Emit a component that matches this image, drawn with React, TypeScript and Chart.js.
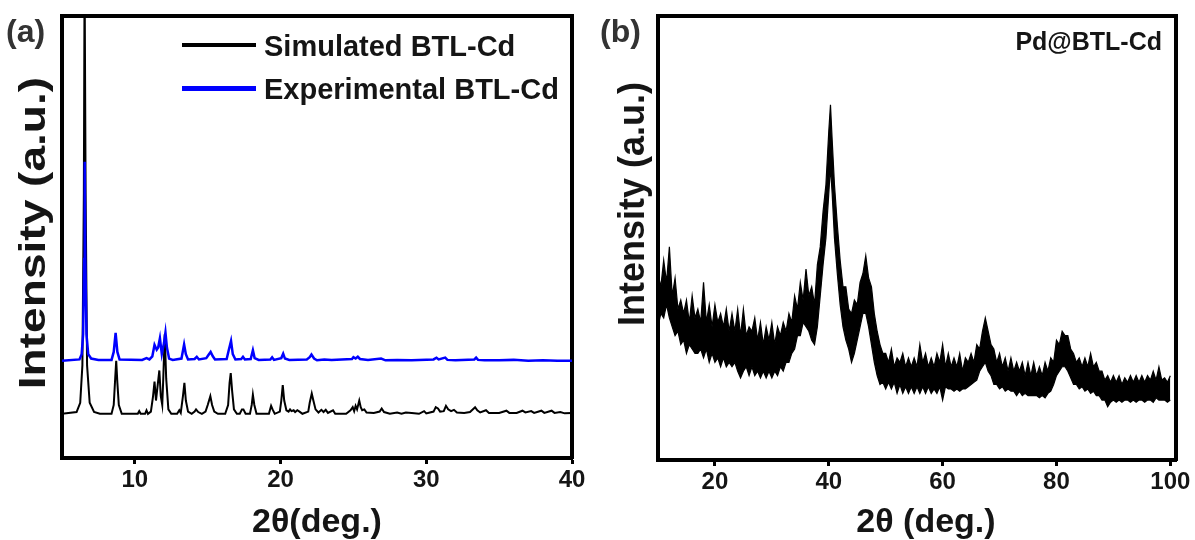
import React, { useEffect, useRef } from "react";
import { Chart, registerables } from "chart.js";

Chart.register(...registerables);

// ---------- Panel (a) data ----------
const simTheta = [
  5, 6.0, 6.25, 6.4, 6.5, 6.55, 6.62, 6.72, 6.9, 7.2, 7.6,
  8.4, 8.55, 8.65, 8.72, 8.8, 8.9, 9.1,
  10.2, 10.3, 10.4, 10.7, 10.8, 10.9,
  11.1, 11.25, 11.35, 11.45, 11.55, 11.68, 11.78, 11.88, 11.95, 12.05, 12.15, 12.3, 12.5,
  12.9, 13.05, 13.15, 13.3, 13.4, 13.5, 13.65, 13.9,
  14.1, 14.2, 14.35, 14.6, 14.85, 15.0, 15.18, 15.3, 15.45, 15.7,
  16.2, 16.4, 16.5, 16.58, 16.68, 16.8, 17.0,
  17.2, 17.35, 17.45, 17.6, 17.9, 18.02, 18.1, 18.2, 18.35,
  19.2, 19.35, 19.45, 19.6, 19.95, 20.05, 20.15, 20.25, 20.4, 20.55, 20.65, 20.75, 20.9, 21.0, 21.15, 21.3, 21.5,
  21.9, 22.0, 22.14, 22.25, 22.4, 22.6, 22.8, 22.95, 23.1, 23.25, 23.6, 23.75,
  24.5, 24.8, 24.95, 25.05, 25.15, 25.25, 25.4, 25.5, 25.6, 25.75, 25.9,
  26.4, 26.8, 26.94, 27.1, 27.5, 28.0, 28.3, 28.6, 29.0, 29.5, 29.85, 30.0,
  30.5, 30.65, 30.8, 30.95, 31.2, 31.35, 31.5, 31.7, 31.9, 32.1, 32.6, 33.0, 33.35, 33.5, 33.7,
  34.1, 34.3, 35.0, 35.5, 35.7, 36.2, 36.6, 36.8, 37.2, 37.4, 37.9, 38.1, 38.6, 38.8, 39.2, 39.5, 40,
];
const simIntensity = [
  10, 10.4, 12.5, 21, 60, 110, 60, 21, 12.5, 10.4, 10,
  10, 12, 18, 22, 17, 12, 10,
  10, 10.6, 10, 10, 10.8, 10,
  10.5, 14, 17.3, 13, 16, 19.8, 14, 12, 18, 28, 18, 11, 10,
  10, 10.8, 10.2, 14, 17, 13, 10.5, 10,
  10.5, 11, 10.4, 10, 10.5, 12, 14, 12, 10.5, 10,
  10, 12, 17, 19.2, 15, 11, 10,
  10, 11, 11, 10, 10, 12, 14.3, 12, 10,
  10, 11.8, 11, 10, 10.5, 13, 16.5, 13, 10.8, 10.5, 11, 10.6, 10.8, 10.4, 10.8, 10.5, 10,
  10.5, 12.5, 14.6, 13, 11, 10.3, 10.9, 10.4, 10.9, 10.2, 10.8, 10,
  10, 10.8, 11.5, 10.6, 11.8, 11, 13, 11.5, 10.8, 11, 10.3,
  10.2, 10.5, 11.2, 10.4, 10, 10.3, 10, 10.3, 10.2, 10, 10.6, 10.1,
  10.5, 11.5, 11.2, 10.5, 10.6, 11.8, 11, 10.6, 10.9, 10.3, 10.2, 10.4, 11.5, 10.8, 10.3,
  10.8, 10.2, 10.2, 10.7, 10.2, 10.2, 10.7, 10.3, 10.6, 10.2, 10.7, 10.2, 10.7, 10.2, 10.4, 10.1, 10.2,
];

const expTheta = [
  5, 6.2, 6.35, 6.45, 6.52, 6.56, 6.6, 6.68, 6.8, 7.0, 7.5,
  8.4, 8.55, 8.68, 8.8, 8.95,
  10.5, 10.8, 11.0, 11.2, 11.35, 11.5, 11.6, 11.72, 11.85, 12.0, 12.1, 12.2, 12.35, 12.6,
  13.2, 13.38, 13.5, 13.65, 14.1, 14.25, 14.4, 14.9, 15.05, 15.2, 15.35, 15.5,
  16.3, 16.45, 16.6, 16.72, 16.9, 17.3, 17.42, 17.55, 17.95, 18.1, 18.22, 18.5,
  19.3, 19.42, 19.55, 20.05, 20.18, 20.3, 20.6, 21.8, 22.0, 22.12, 22.3, 22.5,
  23.0, 23.5, 24.9, 25.0, 25.15, 25.3, 25.45, 26.0, 26.9, 27.2, 28, 29,
  30.5, 30.7, 30.85, 31.3, 31.45, 32, 33.3, 33.42, 33.55, 34, 35, 36, 37, 38, 39, 40,
];
const expIntensity = [
  22, 22.3, 23.5, 28, 45, 67, 45, 28, 23.5, 22.5, 22.2,
  22.2, 24, 28.3, 24, 22.3,
  22.2, 22.6, 22.3, 23, 25.6, 24.5, 25, 27.1, 23.5, 26, 28.4, 25, 22.5, 22.2,
  22.5, 25.7, 23.5, 22.3, 22.4, 22.9, 22.3, 22.6, 23.3, 24, 23, 22.3,
  22.4, 24.5, 26.5, 23.5, 22.3, 22.4, 22.9, 22.3, 22.4, 24.4, 22.6, 22.2,
  22.3, 22.8, 22.2, 22.6, 23.6, 22.5, 22.2, 22.3, 22.8, 23.4, 22.5, 22.1,
  22.3, 22.2, 22.4, 22.8, 22.5, 22.9, 22.4, 22.2, 22.5, 22.1, 22.2, 22.1,
  22.3, 22.7, 22.3, 22.7, 22.2, 22.1, 22.3, 22.7, 22.2, 22.1, 22.1, 22.2, 22.0, 22.1, 22.0, 22.0,
];
const xTicksA = [10, 20, 30, 40];

// ---------- Panel (b) data: noisy band read as upper / lower envelope ----------
const pdTheta = [
  10, 10.5, 11, 11.5, 12, 12.5, 13, 13.5, 14, 14.5, 15, 15.5, 16, 16.5, 17, 17.5, 18, 18.5, 19, 19.5,
  20, 20.5, 21, 21.5, 22, 22.5, 23, 23.5, 24, 24.5, 25, 25.5, 26, 26.5, 27, 27.5, 28, 28.5, 29, 29.5,
  30, 30.5, 31, 31.5, 32, 32.5, 33, 33.5, 34, 34.5, 35, 35.5, 36, 36.5, 37, 37.5, 38, 38.5, 39, 39.5,
  40, 40.3, 40.6, 41, 41.5, 42, 42.5, 43, 43.5, 44, 44.5, 45, 45.5, 46, 46.5, 47, 47.5, 48, 48.5, 49, 49.5,
  50, 50.5, 51, 51.5, 52, 52.5, 53, 53.5, 54, 54.5, 55, 55.5, 56, 56.5, 57, 57.5, 58, 58.5, 59, 59.5,
  60, 60.5, 61, 61.5, 62, 62.5, 63, 63.5, 64, 64.5, 65, 65.5, 66, 66.5, 67, 67.5, 68, 68.5, 69, 69.5,
  70, 70.5, 71, 71.5, 72, 72.5, 73, 73.5, 74, 74.5, 75, 75.5, 76, 76.5, 77, 77.5, 78, 78.5, 79, 79.5,
  80, 80.5, 81, 81.5, 82, 82.5, 83, 83.5, 84, 84.5, 85, 85.5, 86, 86.5, 87, 87.5, 88, 88.5, 89, 89.5,
  90, 90.5, 91, 91.5, 92, 92.5, 93, 93.5, 94, 94.5, 95, 95.5, 96, 96.5, 97, 97.5, 98, 98.5, 99, 99.5, 100,
];
const pdUpper = [
  42, 39, 45, 40, 48, 37, 41, 34, 36, 33, 36, 31, 37, 32, 34, 31, 40, 31, 35, 30,
  35, 31, 33, 30, 34, 29, 33, 29, 34, 28, 34, 28, 30, 29, 32, 27, 31, 26, 30, 27,
  31, 26, 30, 28, 31, 29, 33, 31, 37, 34, 40, 36, 43, 37, 39, 35, 44, 48, 56, 62,
  74, 80, 72, 62, 53, 45, 39, 39, 34, 33, 36, 35, 40, 42, 46, 41, 39, 33, 29, 26, 24,
  24, 22, 25, 21, 23, 22, 24, 21, 23, 21, 23, 21, 26, 22, 24, 21, 23, 21, 24, 22,
  26, 21, 24, 21, 23, 21, 24, 20, 23, 22, 24, 22, 26, 25, 29, 32, 29, 26, 25, 22,
  24, 21, 23, 20, 23, 20, 22, 20, 22, 19, 22, 19, 22, 19, 21, 19, 22, 20, 23, 22,
  27, 26, 29, 28, 28, 25, 24, 22, 23, 21, 23, 21, 24, 21, 22, 20, 20, 18, 19, 17.5,
  19, 17.5, 19, 17, 18.5, 17.5, 19, 17.5, 19, 17.5, 19, 17.5, 19, 18, 20, 18, 21, 18, 18.5, 17.5, 19,
];
const pdLower = [
  30, 33, 32, 35, 32, 30, 28, 29, 26, 27, 24, 26, 25, 24, 24, 25, 23, 25, 22, 24,
  22, 23, 21, 23, 21, 22, 21, 22, 20, 18.5, 20, 21, 19, 21, 19, 20, 18.5, 20, 18.5, 20,
  18.5, 20, 19, 21, 20, 22, 22, 24, 25, 28, 28, 31, 30, 29, 27, 26, 30, 37, 44, 50,
  60, 66, 60, 50, 42, 35, 30, 27, 25, 22, 24, 27, 30, 33, 33, 30, 26, 22, 19, 17, 17.5,
  16, 17.5, 16, 17.5, 15, 17, 15, 16.5, 15, 16.5, 15, 16.5, 15, 16.5, 15, 16.5, 15, 16, 15, 16.5,
  13.5, 16.5, 16, 16, 15.5, 16, 15.5, 16, 16, 16.5, 17, 17.5, 18, 20, 21, 22, 20, 19, 17, 17,
  16, 16.5, 15.5, 16, 15.5, 15.5, 14.5, 15.5, 14.5, 15, 14.5, 14.5, 14.5, 14.5, 14, 14.5, 14, 15, 15.5, 17,
  19, 20, 21, 21, 20, 18.5, 17, 17, 16, 16.5, 15.5, 16, 15, 15.5, 14.5, 14.5, 13.5, 13.5, 12, 13,
  13.5, 13, 13.5, 13, 13.5, 13.5, 13, 13.5, 13, 13.5, 13.5, 13, 13.5, 13.5, 13, 14, 13.5, 13.5, 13.5, 13, 13.5,
];
const xTicksB = [20, 40, 60, 80, 100];

const FONT = '"Liberation Sans", Arial, sans-serif';
const TEXT = "#151515";

function pts(xs: number[], ys: number[]) {
  return xs.map((x, i) => ({ x, y: ys[i] }));
}

function makeConfig(p: {
  datasets: any[];
  xmin: number;
  xmax: number;
  ticks: number[];
  leftW: number;
  bottomH: number;
  padRight: number;
}): any {
  const frame = { display: true, width: 4, color: "#000" };
  return {
    type: "line",
    data: { datasets: p.datasets },
    options: {
      animation: false,
      responsive: false,
      events: [],
      layout: { padding: { top: 16, right: p.padRight, left: 0, bottom: 0 } },
      plugins: { legend: { display: false }, tooltip: { enabled: false }, filler: { propagate: false } },
      scales: {
        x: {
          type: "linear",
          position: "bottom",
          min: p.xmin,
          max: p.xmax,
          afterBuildTicks: (s: any) => {
            s.ticks = p.ticks.map((v) => ({ value: v }));
          },
          afterFit: (s: any) => {
            s.height = p.bottomH;
          },
          grid: {
            display: true,
            drawOnChartArea: false,
            drawTicks: true,
            tickLength: 6,
            tickWidth: 3,
            tickColor: "#000",
            color: "#000",
          },
          border: frame,
          ticks: {
            color: TEXT,
            font: { family: FONT, size: 24, weight: "bold" },
            padding: 2,
            maxRotation: 0,
            autoSkip: false,
          },
          title: { display: false },
        },
        y: {
          type: "linear",
          position: "left",
          min: 0,
          max: 100,
          afterFit: (s: any) => {
            s.width = p.leftW;
          },
          grid: { display: false },
          border: frame,
          ticks: { display: false },
          title: { display: false },
        },
        x2: {
          type: "linear",
          position: "top",
          min: p.xmin,
          max: p.xmax,
          afterFit: (s: any) => {
            s.height = 0;
          },
          grid: { display: false },
          ticks: { display: false },
          border: frame,
        },
        y2: {
          type: "linear",
          position: "right",
          min: 0,
          max: 100,
          afterFit: (s: any) => {
            s.width = 0;
          },
          grid: { display: false },
          ticks: { display: false },
          border: frame,
        },
      },
    },
  };
}

function ChartCanvas({ config, width, height, left }: any) {
  const ref = useRef<HTMLCanvasElement | null>(null);
  useEffect(() => {
    if (!ref.current) return;
    const chart = new Chart(ref.current, config);
    return () => chart.destroy();
  }, [config]);
  return (
    <canvas
      ref={ref}
      width={width}
      height={height}
      style={{ position: "absolute", left, top: 0, width, height }}
    />
  );
}

const configA = makeConfig({
  datasets: [
    {
      label: "Simulated BTL-Cd",
      data: pts(simTheta, simIntensity),
      borderColor: "#000000",
      borderWidth: 2,
      pointRadius: 0,
      tension: 0,
      order: 1,
    },
    {
      label: "Experimental BTL-Cd",
      data: pts(expTheta, expIntensity),
      borderColor: "#0000ff",
      borderWidth: 2.5,
      pointRadius: 0,
      tension: 0,
      order: 0,
    },
  ],
  xmin: 5,
  xmax: 40,
  ticks: xTicksA,
  leftW: 62,
  bottomH: 82,
  padRight: 25,
});

const configB = makeConfig({
  datasets: [
    {
      label: "Pd@BTL-Cd lower",
      data: pts(pdTheta, pdLower),
      borderColor: "#000000",
      borderWidth: 1.2,
      pointRadius: 0,
      tension: 0,
      fill: false,
    },
    {
      label: "Pd@BTL-Cd upper",
      data: pts(pdTheta, pdUpper),
      borderColor: "#000000",
      backgroundColor: "#000000",
      borderWidth: 1.2,
      pointRadius: 0,
      tension: 0,
      fill: "-1",
    },
  ],
  xmin: 10,
  xmax: 101,
  ticks: xTicksB,
  leftW: 61,
  bottomH: 80,
  padRight: 19,
});

const labelStyle: any = {
  position: "absolute",
  fontFamily: FONT,
  fontWeight: "bold",
  whiteSpace: "nowrap",
  lineHeight: 1,
};

function CenteredText({ cx, cy, size, stretch, rotate, children }: any) {
  return (
    <div
      style={{
        ...labelStyle,
        left: cx,
        top: cy,
        fontSize: size,
        color: TEXT,
        transform: `translate(-50%, -50%)${rotate ? " rotate(-90deg)" : ""} scaleX(${stretch})`,
      }}
    >
      {children}
    </div>
  );
}

export default function App() {
  return (
    <div
      style={{
        position: "fixed",
        left: 0,
        top: 0,
        width: 1195,
        height: 540,
        background: "#fff",
        overflow: "hidden",
      }}
    >
      <ChartCanvas config={configA} width={597} height={540} left={0} />
      <ChartCanvas config={configB} width={598} height={540} left={597} />

      <CenteredText cx={33} cy={233} size={36} stretch={1.28} rotate>
        Intensity (a.u.)
      </CenteredText>
      <CenteredText cx={632} cy={204} size={36} stretch={1} rotate>
        Intensity (a.u.)
      </CenteredText>

      <CenteredText cx={317} cy={520} size={34} stretch={1}>
        2θ(deg.)
      </CenteredText>
      <CenteredText cx={926} cy={520} size={34} stretch={1}>
        2θ (deg.)
      </CenteredText>

      <div style={{ ...labelStyle, left: 6, top: 15, fontSize: 32, color: "#333" }}>(a)</div>
      <div style={{ ...labelStyle, left: 600, top: 15, fontSize: 32, color: "#333" }}>(b)</div>

      {/* legend of panel (a) */}
      <div style={{ position: "absolute", left: 182, top: 43, width: 74, height: 4, background: "#000" }} />
      <div style={{ ...labelStyle, left: 264, top: 32, fontSize: 29, color: TEXT }}>Simulated BTL-Cd</div>
      <div style={{ position: "absolute", left: 182, top: 86, width: 74, height: 5, background: "#0000ff" }} />
      <div style={{ ...labelStyle, left: 264, top: 75, fontSize: 29, color: TEXT }}>Experimental BTL-Cd</div>

      <div style={{ ...labelStyle, right: 1195 - 1162, top: 29, fontSize: 25, color: TEXT }}>Pd@BTL-Cd</div>
    </div>
  );
}
